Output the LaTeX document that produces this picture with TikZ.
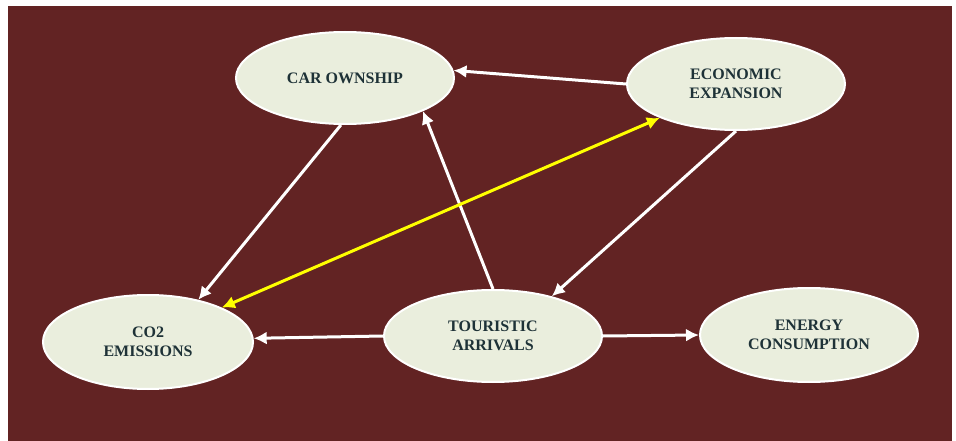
\documentclass[tikz,border=0pt]{standalone}
\usepackage{fontspec}
\setmainfont{Liberation Serif}
\usetikzlibrary{shapes.geometric,arrows.meta}
\definecolor{bgred}{RGB}{98,35,35}
\definecolor{ellfill}{RGB}{234,238,221}
\definecolor{txtcol}{RGB}{30,50,55}
\definecolor{yel}{RGB}{255,255,0}
\begin{document}
\begin{tikzpicture}[x=1pt,y=-1pt,
  factor/.style={ellipse,draw=white,line width=2pt,fill=ellfill,
    minimum width=218pt,minimum height=92pt,inner sep=0pt,align=center,
    text=txtcol,font=\fontsize{16}{18.5}\selectfont\bfseries},
  link/.style={draw=white,line width=3pt,-{Latex[length=13pt,width=13pt]}},
  ylink/.style={draw=yel,line width=3pt,{Latex[length=13pt,width=13pt]}-{Latex[length=13pt,width=13pt]}}]
\useasboundingbox (0,0) rectangle (956,441);
\fill[bgred] (8,6) rectangle (952,441);
\node[factor] (car) at (345,78) {CAR OWNSHIP};
\node[factor] (eco) at (736,84) {ECONOMIC\\EXPANSION};
\node[factor,minimum width=210pt,minimum height=94pt] (co2) at (148,342) {CO2\\EMISSIONS};
\node[factor] (tour) at (493,336) {TOURISTIC\\ARRIVALS};
\node[factor,minimum height=94pt] (ener) at (809,335) {ENERGY\\CONSUMPTION};
\draw[link] (eco.180) -- (car.4);
\draw[link] (car.-95) -- (co2.40);
\draw[link] (tour.90) -- (car.-23);
\draw[link] (eco.-90) -- (tour.34);
\draw[link] (tour.180) -- (co2.2);
\draw[link] (tour.0) -- (ener.180);
\draw[ylink] (co2.25) -- (eco.-156);
\end{tikzpicture}
\end{document}
